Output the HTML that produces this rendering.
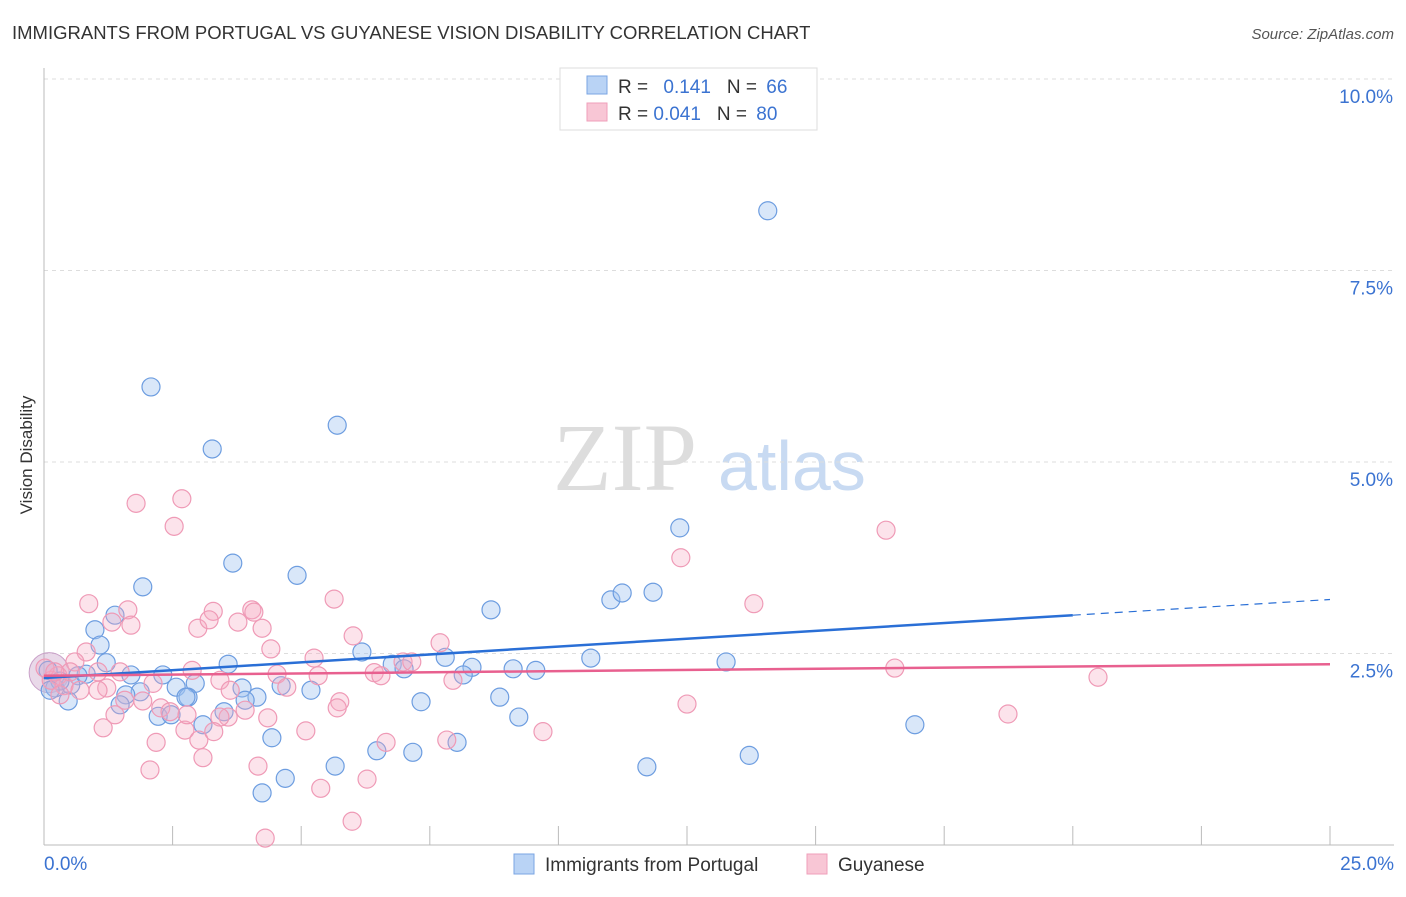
<!DOCTYPE html>
<html><head><meta charset="utf-8"><style>
body{margin:0;background:#fff;font-family:"Liberation Sans",sans-serif;}
</style></head><body>
<svg id="c" width="1406" height="892" xmlns="http://www.w3.org/2000/svg">
<text x="12" y="39" font-size="18.5" fill="#333">IMMIGRANTS FROM PORTUGAL VS GUYANESE VISION DISABILITY CORRELATION CHART</text>
<text x="1394" y="39" font-size="15" fill="#555" font-style="italic" text-anchor="end">Source: ZipAtlas.com</text>
<text x="32" y="455" font-size="17" fill="#333" transform="rotate(-90 32 455)" text-anchor="middle">Vision Disability</text>
<g><text x="553" y="490" font-size="96" fill="#ddd" font-family="Liberation Serif,serif">ZIP</text><text x="718" y="490" font-size="70" fill="#c8daf2">atlas</text></g>
<g id="grid"></g><g id="pts"></g><g id="lines"></g>
<g>
<rect x="560" y="68" width="257" height="62" fill="#fff" stroke="#ddd"/>
<rect x="587" y="76" width="20" height="18" fill="#b9d3f5" stroke="#7aa5e3"/>
<rect x="587" y="103" width="20" height="18" fill="#f8c6d5" stroke="#ef9fba"/>
<text x="618" y="93" font-size="19" fill="#333">R = <tspan fill="#3b73d1" dx="10">0.141</tspan><tspan fill="#333" dx="16">N = </tspan><tspan fill="#3b73d1" dx="4">66</tspan></text>
<text x="618" y="120" font-size="19" fill="#333">R = <tspan fill="#3b73d1">0.041</tspan><tspan fill="#333" dx="16">N = </tspan><tspan fill="#3b73d1" dx="4">80</tspan></text>
</g>
<g>
<rect x="514" y="854" width="20" height="20" fill="#b9d3f5" stroke="#7aa5e3"/>
<text x="545" y="871" font-size="19" fill="#333">Immigrants from Portugal</text>
<rect x="807" y="854" width="20" height="20" fill="#f8c6d5" stroke="#ef9fba"/>
<text x="838" y="871" font-size="19" fill="#333">Guyanese</text>
</g>
</svg>
<script>
const blueX=[14.07,2.08,3.27,5.70,12.36,3.67,1.92,4.92,8.69,11.02,11.24,11.84,1.38,0.99,1.09,1.21,6.18,7.80,10.63,13.26,3.58,6.77,7.00,8.32,9.12,9.56,2.31,1.69,0.82,0.66,0.21,0.47,0.52,2.94,2.57,4.61,3.85,5.19,1.87,1.59,2.80,4.14,7.33,8.86,1.48,2.22,2.47,3.50,3.09,9.23,16.93,4.43,8.03,7.17,6.47,13.71,5.66,11.72,4.69,4.24,0.08,0.31,3.91,8.15,0.12,2.76];
const blueY=[8.28,5.98,5.17,5.48,4.14,3.68,3.37,3.52,3.07,3.20,3.29,3.30,3.00,2.81,2.61,2.38,2.52,2.45,2.44,2.39,2.36,2.36,2.30,2.32,2.30,2.28,2.22,2.22,2.23,2.21,2.05,1.88,2.09,2.11,2.06,2.08,2.05,2.02,2.00,1.96,1.93,1.93,1.87,1.93,1.83,1.68,1.70,1.74,1.57,1.67,1.57,1.40,1.34,1.21,1.23,1.17,1.03,1.02,0.87,0.68,2.28,2.14,1.89,2.22,2.02,1.93];
const pinkX=[2.68,1.79,2.53,16.37,12.38,0.87,1.63,3.29,4.04,4.08,5.64,13.80,1.32,1.69,2.99,3.21,3.77,4.24,6.01,7.70,4.41,0.82,5.25,0.60,6.98,1.48,1.05,2.12,2.88,3.42,4.53,5.33,6.42,6.55,7.95,16.54,20.49,0.27,0.14,0.39,1.22,1.05,1.57,1.92,2.27,2.45,3.58,3.91,5.75,5.70,3.42,12.50,18.74,1.38,1.15,2.74,2.18,3.01,3.30,5.09,6.65,7.83,9.70,3.09,2.06,4.16,6.28,5.38,5.99,4.30,0.31,0.51,0.70,3.62,4.72,7.15,0.02,0.21,4.35,2.78];
const pinkY=[4.52,4.46,4.16,4.11,3.75,3.15,3.07,3.05,3.07,3.04,3.21,3.15,2.91,2.87,2.83,2.94,2.91,2.83,2.73,2.64,2.56,2.52,2.44,2.39,2.39,2.26,2.26,2.11,2.28,2.15,2.23,2.21,2.25,2.21,2.15,2.31,2.19,2.21,2.15,2.08,2.05,2.02,1.89,1.88,1.79,1.74,1.67,1.76,1.87,1.79,1.67,1.84,1.71,1.70,1.53,1.50,1.34,1.37,1.48,1.49,1.34,1.37,1.48,1.14,0.98,1.03,0.86,0.74,0.31,0.09,1.96,2.26,2.02,2.02,2.06,2.39,2.31,2.26,1.66,1.70];
const yTicks=[2.5,5.0,7.5,10.0];
const xTicks=[0,2.5,5,7.5,10,12.5,15,17.5,20,22.5,25];
const blueTrend=[2.18,0.041], pinkTrend=[2.21,0.006];
const sx=v=>44+v/25*1286, sy=v=>845-v/10*766;
const NS="http://www.w3.org/2000/svg";
function mk(p,t,a){const e=document.createElementNS(NS,t);for(const k in a)e.setAttribute(k,a[k]);p.appendChild(e);return e;}
const g=document.getElementById('grid'),P=document.getElementById('pts'),L=document.getElementById('lines');
yTicks.forEach(v=>{
 const l=mk(g,'line',{x1:44,x2:1394,y1:sy(v),y2:sy(v),stroke:'#ddd','stroke-dasharray':'4,4'});
 
 
 const t=mk(g,'text',{x:1393,y:sy(v)+24,'font-size':19,fill:'#3b73d1','text-anchor':'end'});t.textContent=v.toFixed(1)+'%';
 
 
});
mk(g,'line',{x1:44,x2:44,y1:68,y2:845,stroke:'#bbb'});
mk(g,'line',{x1:44,x2:1394,y1:845,y2:845,stroke:'#bbb'});
xTicks.forEach(v=>{const l=mk(g,'line',{x1:sx(v),x2:sx(v),y1:826,y2:845,stroke:'#bbb'});
 
 });
const x0=mk(g,'text',{x:44,y:870,'font-size':19,fill:'#3b73d1'});x0.textContent='0.0%';


const x1=mk(g,'text',{x:1394,y:870,'font-size':19,fill:'#3b73d1','text-anchor':'end'});x1.textContent='25.0%';


const big=mk(P,'circle',{cx:sx(0.1),cy:sy(2.25),r:20,fill:'rgba(200,160,200,0.4)',stroke:'#c9a0c8'});


blueX.forEach((x,i)=>{const c=mk(P,'circle',{cx:sx(x),cy:sy(blueY[i]),r:9,fill:'rgba(160,195,240,0.4)',stroke:'#6d9de0','stroke-width':1.2});
 
 });
pinkX.forEach((x,i)=>{const c=mk(P,'circle',{cx:sx(x),cy:sy(pinkY[i]),r:9,fill:'rgba(245,170,195,0.33)',stroke:'#ef9ab6','stroke-width':1.2});
 
 });
const b1=mk(L,'line',{x1:sx(0),y1:sy(blueTrend[0]),x2:sx(20),y2:sy(blueTrend[0]+20*blueTrend[1]),stroke:'#2a6fd6','stroke-width':2.5});


const b2=mk(L,'line',{x1:sx(20),y1:sy(blueTrend[0]+20*blueTrend[1]),x2:sx(25),y2:sy(blueTrend[0]+25*blueTrend[1]),stroke:'#2a6fd6','stroke-width':1.2,'stroke-dasharray':'8,6'});


const p1=mk(L,'line',{x1:sx(0),y1:sy(pinkTrend[0]),x2:sx(25),y2:sy(pinkTrend[0]+25*pinkTrend[1]),stroke:'#e8608f','stroke-width':2.5});


</script>
</body></html>
